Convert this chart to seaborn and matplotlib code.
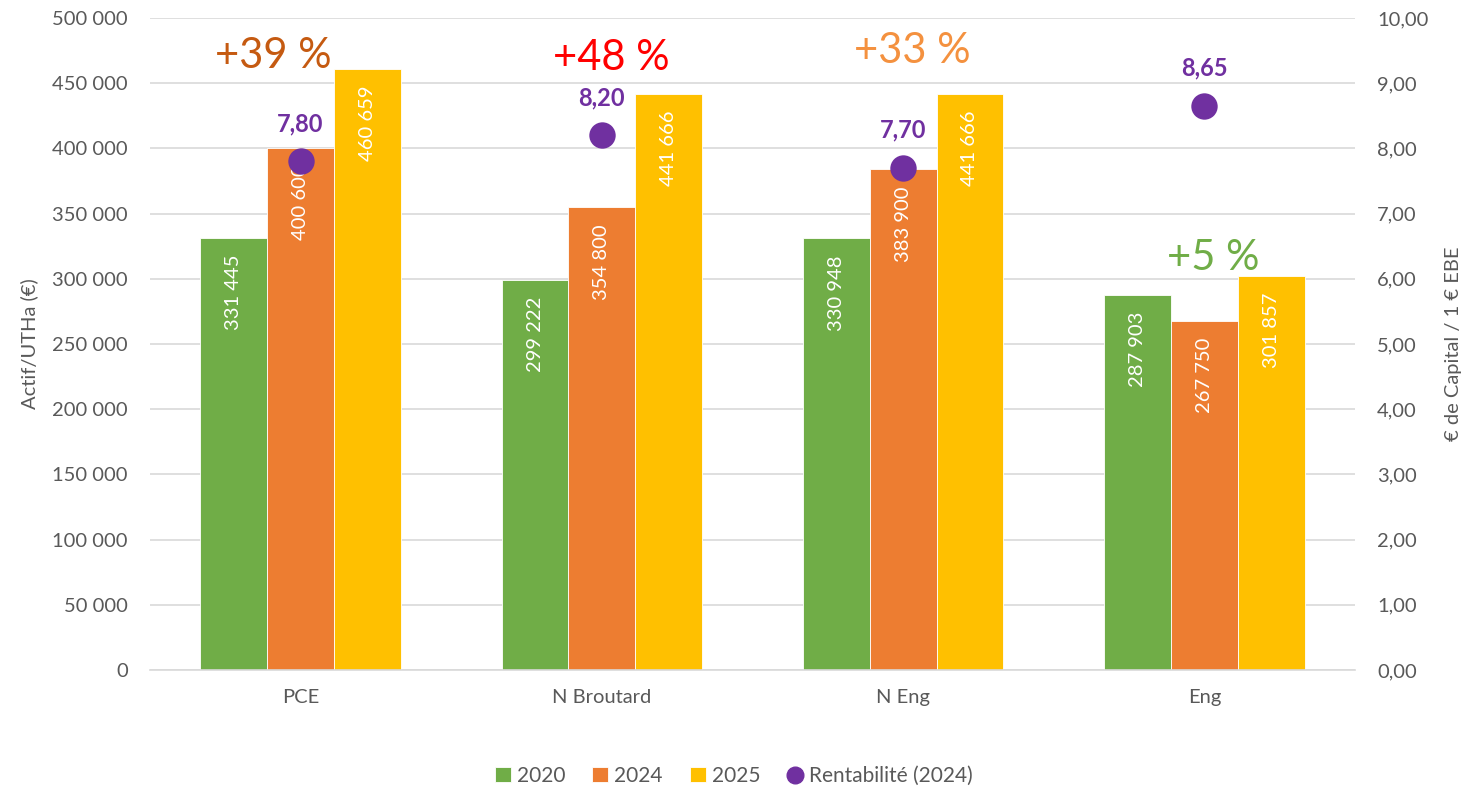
import pandas as pd
import matplotlib.pyplot as plt
import seaborn as sns
from matplotlib.lines import Line2D
from matplotlib.ticker import FuncFormatter

# données
categories = ['PCE', 'N Broutard', 'N Eng', 'Eng']
annees = ['2020', '2024', '2025']
actif_2020 = [331445, 299222, 330948, 287903]
actif_2024 = [400600, 354800, 383900, 267750]
actif_2025 = [460659, 441666, 441666, 301857]
rentabilite_2024 = [7.80, 8.20, 7.70, 8.65]
evolutions = ['+39 %', '+48 %', '+33 %', '+5 %']

couleurs = {'2020': '#70AD47', '2024': '#ED7D31', '2025': '#FFC000'}
violet = '#7030A0'
gris = '#595959'
couleurs_evol = ['#C55A11', '#FF0000', '#F4913F', '#70AD47']
# position des étiquettes d'évolution (décalage en x, hauteur sur l'axe gauche)
pos_evol = [(-0.09, 471000), (0.03, 469000), (0.03, 475000), (0.03, 316000)]

df = pd.DataFrame({
    'categorie': categories * 3,
    'annee': [a for a in annees for _ in categories],
    'actif': actif_2020 + actif_2024 + actif_2025,
})
df_rent = pd.DataFrame({'categorie': categories, 'rentabilite': rentabilite_2024})

sns.set_theme(style='white')
plt.rcParams['font.family'] = ['Lato', 'DejaVu Sans']

fig = plt.figure(figsize=(14.68, 7.88), dpi=100)
ax = fig.add_axes([150 / 1468, 1 - 670 / 788, 1205 / 1468, 652 / 788])

sns.barplot(data=df, x='categorie', y='actif', hue='annee', order=categories,
            palette=couleurs, width=0.665, errorbar=None, ax=ax,
            edgecolor='white', linewidth=0.6, saturation=1, legend=True)

ax.set_ylim(0, 500000)
ax.set_yticks(range(0, 500001, 50000))
ax.yaxis.set_major_formatter(FuncFormatter(lambda v, p: f'{int(v):,}'.replace(',', ' ')))
ax.grid(axis='y', color='#D9D9D9', linewidth=1.2)
ax.set_axisbelow(True)
for s in ['top', 'right', 'left']:
    ax.spines[s].set_visible(False)
ax.spines['bottom'].set_color('#D9D9D9')
ax.spines['bottom'].set_linewidth(1.2)
ax.set_xlabel('')
ax.set_ylabel('Actif/UTHa (€)', fontsize=14.5, color=gris, labelpad=10)
ax.tick_params(axis='y', labelsize=14.5, colors=gris, length=0, pad=16)
ax.tick_params(axis='x', labelsize=14.5, colors=gris, length=0, pad=14)

# valeurs dans les barres
for container in ax.containers:
    for bar in container:
        h = bar.get_height()
        ax.annotate(f'{int(h):,}'.replace(',', ' '),
                    (bar.get_x() + bar.get_width() / 2, h),
                    xytext=(0, -12), textcoords='offset points',
                    rotation=90, ha='center', va='top', color='white', fontsize=14.5)

# évolution 2020 -> 2025
for i, (txt, col) in enumerate(zip(evolutions, couleurs_evol)):
    dx, y = pos_evol[i]
    ax.text(i + dx, y, txt, ha='center', va='center', fontsize=30, color=col)

handles, labels = ax.get_legend_handles_labels()
ax.get_legend().remove()

# axe secondaire : rentabilité
ax2 = ax.twinx()
sns.stripplot(data=df_rent, x='categorie', y='rentabilite', order=categories,
              jitter=False, color=violet, size=19, ax=ax2, zorder=5)
ax2.set_ylim(0, 10)
ax2.set_yticks(range(0, 11))
ax2.yaxis.set_major_formatter(FuncFormatter(lambda v, p: f'{v:.2f}'.replace('.', ',')))
ax2.tick_params(axis='y', labelsize=14.5, colors=gris, length=0, pad=16)
ax2.set_ylabel('€ de Capital / 1 € EBE', fontsize=14.5, color=gris, labelpad=12)
ax2.set_xlabel('')
for s in ax2.spines.values():
    s.set_visible(False)

for i, v in enumerate(rentabilite_2024):
    ax2.annotate(f'{v:.2f}'.replace('.', ','), (i, v), xytext=(0, 19),
                 textcoords='offset points', ha='center', va='bottom',
                 fontsize=17, fontweight='bold', color=violet)

handles.append(Line2D([], [], marker='o', linestyle='none', color=violet, markersize=12))
labels.append('Rentabilité (2024)')
leg = fig.legend(handles, labels, loc='center', bbox_to_anchor=(0.5, 1 - 776 / 788),
                 ncol=4, frameon=False, fontsize=15, handlelength=0.75, handleheight=0.75,
                 columnspacing=1.3, handletextpad=0.3)
for t in leg.get_texts():
    t.set_color(gris)

plt.savefig('out.png', dpi=100)
